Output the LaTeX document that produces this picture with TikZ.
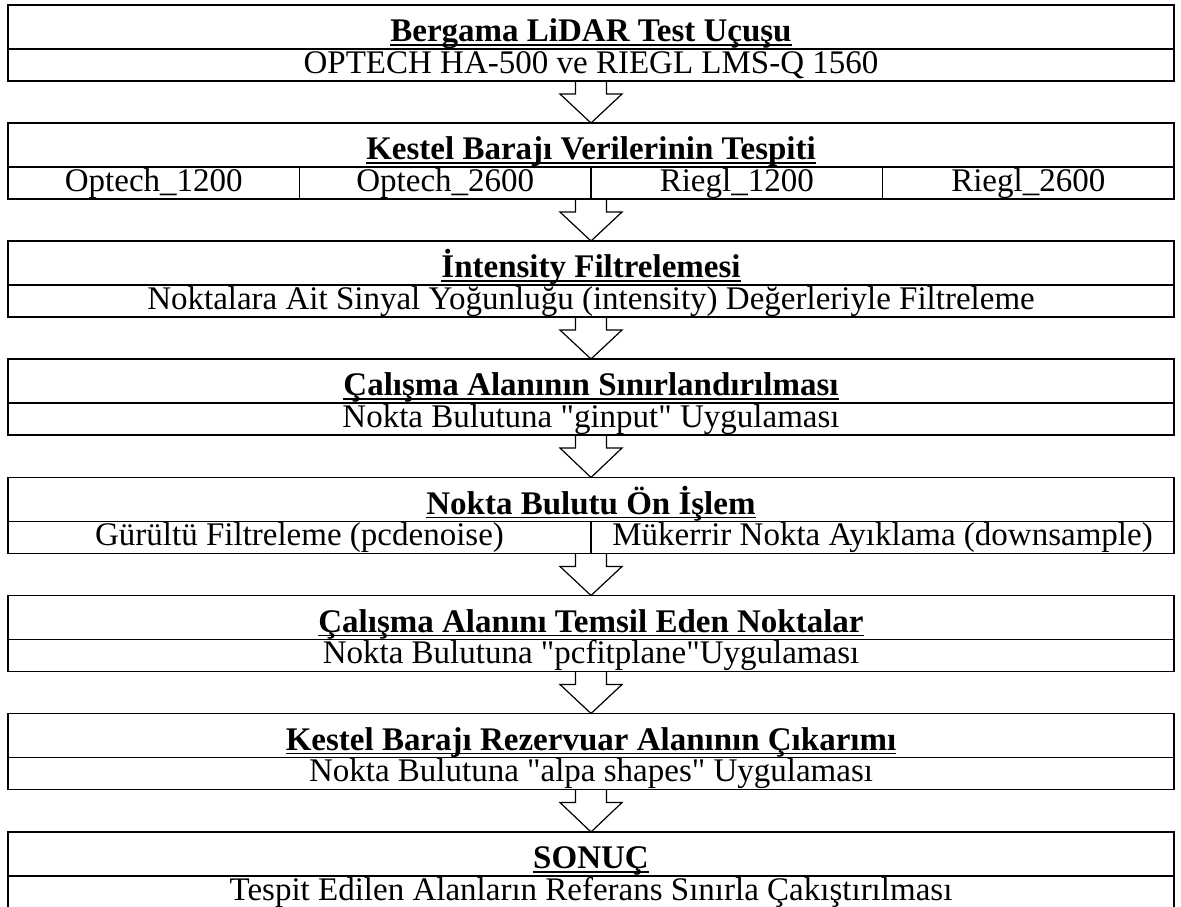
\documentclass[tikz,border=0pt]{standalone}
\usepackage{fontspec}
\setmainfont{Liberation Serif}[Ligatures=TeXOff]
\usetikzlibrary{calc}
\newcommand{\subsize}{\fontsize{33}{38}\selectfont}
\newcommand{\titlesize}{\fontsize{33}{38}\selectfont}
\newcommand{\titlerow}[3]{%
  \node[titlebox] (t#1) at (591,-#2) {};
  \node[titletext] (tt#1) at ($(t#1.south)+(0,7.5)$) {#3};
  \draw[ulline] ($(tt#1.base west)+(0,-3.5)$) -- ($(tt#1.base east)+(0,-3.5)$);
}
\newcommand{\barrow}[2]{%
  \draw[blockarrow] ($(#1)+(-15.5,0)$) -- ($(#1)+(-15.5,-13)$) -- ($(#1)+(-31,-13)$) -- (#2.north)
    -- ($(#1)+(31,-13)$) -- ($(#1)+(15.5,-13)$) -- ($(#1)+(15.5,0)$);
}
\begin{document}
\begin{tikzpicture}[x=1pt,y=1pt,
  box/.style={draw, line width=1.6pt, inner sep=0pt, outer sep=0pt, anchor=north},
  titlebox/.style={box, minimum width=1166pt, minimum height=44pt},
  subbox/.style={box, minimum width=1166pt, minimum height=32pt, font=\subsize, text height=23pt, text depth=7pt},
  cellfour/.style={box, minimum width=291.5pt, minimum height=32pt, font=\subsize, text height=23pt, text depth=7pt},
  celltwo/.style={box, minimum width=583pt, minimum height=32pt, font=\subsize, text height=23pt, text depth=7pt},
  titletext/.style={anchor=base, inner sep=0pt, outer sep=0pt, font=\titlesize\bfseries},
  ulline/.style={line width=1.4pt},
  blockarrow/.style={draw, line width=1.2pt, line join=miter}
]
\useasboundingbox (0,0) rectangle (1181,-906);

% Stage 1
\titlerow{1}{5}{Bergama LiDAR Test Uçuşu}
\node[subbox] (s1) at (t1.south) {OPTECH HA-500 ve RIEGL LMS-Q 1560};
\coordinate (bot1) at (s1.south);

% Stage 2
\titlerow{2}{123}{Kestel Barajı Verilerinin Tespiti}
\node[cellfour] (c21) at ($(t2.south west)+(145.75,0)$) {Optech\_1200};
\node[cellfour] (c22) at ($(t2.south west)+(437.25,0)$) {Optech\_2600};
\node[cellfour] (c23) at ($(t2.south west)+(728.75,0)$) {Riegl\_1200};
\node[cellfour] (c24) at ($(t2.south west)+(1020.25,0)$) {Riegl\_2600};
\coordinate (bot2) at (c22.south east);

% Stage 3
\titlerow{3}{241}{İntensity Filtrelemesi}
\node[subbox] (s3) at (t3.south) {Noktalara Ait Sinyal Yoğunluğu (intensity) Değerleriyle Filtreleme};
\coordinate (bot3) at (s3.south);

% Stage 4
\titlerow{4}{359}{Çalışma Alanının Sınırlandırılması}
\node[subbox] (s4) at (t4.south) {Nokta Bulutuna "ginput" Uygulaması};
\coordinate (bot4) at (s4.south);

% Stage 5
\titlerow{5}{477.5}{Nokta Bulutu Ön İşlem}
\node[celltwo] (c51) at ($(t5.south west)+(291.5,0)$) {Gürültü Filtreleme (pcdenoise)};
\node[celltwo] (c52) at ($(t5.south west)+(874.5,0)$) {Mükerrir Nokta Ayıklama (downsample)};
\coordinate (bot5) at (c51.south east);

% Stage 6
\titlerow{6}{595.5}{Çalışma Alanını Temsil Eden Noktalar}
\node[subbox] (s6) at (t6.south) {Nokta Bulutuna "pcfitplane"Uygulaması};
\coordinate (bot6) at (s6.south);

% Stage 7
\titlerow{7}{713.5}{Kestel Barajı Rezervuar Alanının Çıkarımı}
\node[subbox] (s7) at (t7.south) {Nokta Bulutuna "alpa shapes" Uygulaması};
\coordinate (bot7) at (s7.south);

% Stage 8
\titlerow{8}{832}{SONUÇ}
\node[subbox] (s8) at (t8.south) {Tespit Edilen Alanların Referans Sınırla Çakıştırılması};

% Arrows
\barrow{bot1}{t2}
\barrow{bot2}{t3}
\barrow{bot3}{t4}
\barrow{bot4}{t5}
\barrow{bot5}{t6}
\barrow{bot6}{t7}
\barrow{bot7}{t8}
\end{tikzpicture}
\end{document}
